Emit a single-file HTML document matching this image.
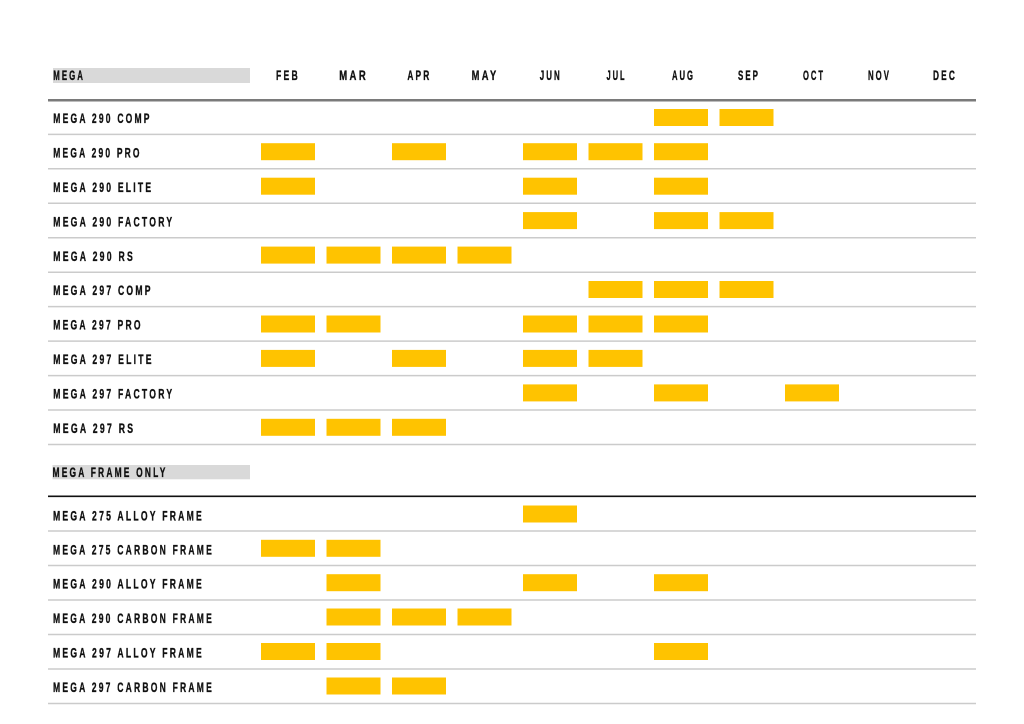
<!DOCTYPE html>
<html>
<head>
<meta charset="utf-8">
<style>
  html,body{margin:0;padding:0;background:#fff;}
  svg{display:block;}
  text{font-family:"Liberation Sans",Arial,sans-serif;font-weight:bold;font-size:13.5px;fill:#111;stroke:#111;stroke-width:0.35px;letter-spacing:3.5px;}
</style>
</head>
<body>
<svg width="1024" height="724" viewBox="0 0 1024 724" xmlns="http://www.w3.org/2000/svg">
  <rect x="0" y="0" width="1024" height="724" fill="#fff"/>

  <!-- header -->
  <rect x="53" y="68" width="197" height="15" fill="#d9d9d9"/>
  <text x="53.3" y="80" textLength="31.7" lengthAdjust="spacingAndGlyphs">MEGA</text>
  <g>
    <text x="276" y="80" textLength="24" lengthAdjust="spacingAndGlyphs">FEB</text>
    <text x="339.2" y="80" textLength="29" lengthAdjust="spacingAndGlyphs">MAR</text>
    <text x="407.4" y="80" textLength="24" lengthAdjust="spacingAndGlyphs">APR</text>
    <text x="471.6" y="80" textLength="27" lengthAdjust="spacingAndGlyphs">MAY</text>
    <text x="539.8" y="80" textLength="22" lengthAdjust="spacingAndGlyphs">JUN</text>
    <text x="606.5" y="80" textLength="20" lengthAdjust="spacingAndGlyphs">JUL</text>
    <text x="672" y="80" textLength="23" lengthAdjust="spacingAndGlyphs">AUG</text>
    <text x="738" y="80" textLength="22" lengthAdjust="spacingAndGlyphs">SEP</text>
    <text x="803" y="80" textLength="22" lengthAdjust="spacingAndGlyphs">OCT</text>
    <text x="868" y="80" textLength="23" lengthAdjust="spacingAndGlyphs">NOV</text>
    <text x="933" y="80" textLength="24" lengthAdjust="spacingAndGlyphs">DEC</text>
  </g>
  <line x1="48" y1="100.2" x2="976" y2="100.2" stroke="#7a7a7a" stroke-width="2.5"/>

  <!-- section 1 separators -->
  <g stroke="#cbcbcb" stroke-width="1.5">
    <line x1="48" y1="134.4" x2="976" y2="134.4"/>
    <line x1="48" y1="168.8" x2="976" y2="168.8"/>
    <line x1="48" y1="203.3" x2="976" y2="203.3"/>
    <line x1="48" y1="237.7" x2="976" y2="237.7"/>
    <line x1="48" y1="272.2" x2="976" y2="272.2"/>
    <line x1="48" y1="306.6" x2="976" y2="306.6"/>
    <line x1="48" y1="341.1" x2="976" y2="341.1"/>
    <line x1="48" y1="375.6" x2="976" y2="375.6"/>
    <line x1="48" y1="410" x2="976" y2="410"/>
    <line x1="48" y1="444.5" x2="976" y2="444.5"/>
  </g>

  <!-- section 1 labels -->
  <text x="53.3" y="123" textLength="98.4" lengthAdjust="spacingAndGlyphs">MEGA 290 COMP</text>
  <text x="53.3" y="157.4" textLength="88.4" lengthAdjust="spacingAndGlyphs">MEGA 290 PRO</text>
  <text x="53.3" y="191.9" textLength="100" lengthAdjust="spacingAndGlyphs">MEGA 290 ELITE</text>
  <text x="53.3" y="226.3" textLength="121" lengthAdjust="spacingAndGlyphs">MEGA 290 FACTORY</text>
  <text x="53.3" y="260.8" textLength="81.7" lengthAdjust="spacingAndGlyphs">MEGA 290 RS</text>
  <text x="53.3" y="295.2" textLength="99.4" lengthAdjust="spacingAndGlyphs">MEGA 297 COMP</text>
  <text x="53.3" y="329.7" textLength="89.4" lengthAdjust="spacingAndGlyphs">MEGA 297 PRO</text>
  <text x="53.3" y="364.1" textLength="100.5" lengthAdjust="spacingAndGlyphs">MEGA 297 ELITE</text>
  <text x="53.3" y="398.6" textLength="121" lengthAdjust="spacingAndGlyphs">MEGA 297 FACTORY</text>
  <text x="53.3" y="433" textLength="82" lengthAdjust="spacingAndGlyphs">MEGA 297 RS</text>

  <!-- section 1 bars -->
  <g fill="#ffc300">
    <rect x="654" y="109" width="54" height="17"/>
    <rect x="719.5" y="109" width="54" height="17"/>
    <rect x="261" y="143.2" width="54" height="17"/>
    <rect x="392" y="143.2" width="54" height="17"/>
    <rect x="523" y="143.2" width="54" height="17"/>
    <rect x="588.5" y="143.2" width="54" height="17"/>
    <rect x="654" y="143.2" width="54" height="17"/>
    <rect x="261" y="177.7" width="54" height="17"/>
    <rect x="523" y="177.7" width="54" height="17"/>
    <rect x="654" y="177.7" width="54" height="17"/>
    <rect x="523" y="212.1" width="54" height="17"/>
    <rect x="654" y="212.1" width="54" height="17"/>
    <rect x="719.5" y="212.1" width="54" height="17"/>
    <rect x="261" y="246.6" width="54" height="17"/>
    <rect x="326.5" y="246.6" width="54" height="17"/>
    <rect x="392" y="246.6" width="54" height="17"/>
    <rect x="457.5" y="246.6" width="54" height="17"/>
    <rect x="588.5" y="281" width="54" height="17"/>
    <rect x="654" y="281" width="54" height="17"/>
    <rect x="719.5" y="281" width="54" height="17"/>
    <rect x="261" y="315.5" width="54" height="17"/>
    <rect x="326.5" y="315.5" width="54" height="17"/>
    <rect x="523" y="315.5" width="54" height="17"/>
    <rect x="588.5" y="315.5" width="54" height="17"/>
    <rect x="654" y="315.5" width="54" height="17"/>
    <rect x="261" y="349.9" width="54" height="17"/>
    <rect x="392" y="349.9" width="54" height="17"/>
    <rect x="523" y="349.9" width="54" height="17"/>
    <rect x="588.5" y="349.9" width="54" height="17"/>
    <rect x="523" y="384.4" width="54" height="17"/>
    <rect x="654" y="384.4" width="54" height="17"/>
    <rect x="785" y="384.4" width="54" height="17"/>
    <rect x="261" y="418.8" width="54" height="17"/>
    <rect x="326.5" y="418.8" width="54" height="17"/>
    <rect x="392" y="418.8" width="54" height="17"/>
  </g>

  <!-- section 2 header -->
  <rect x="52.5" y="465" width="197.5" height="14.3" fill="#d9d9d9"/>
  <text x="52.5" y="477" textLength="115" lengthAdjust="spacingAndGlyphs">MEGA FRAME ONLY</text>
  <line x1="48" y1="496.3" x2="976" y2="496.3" stroke="#111" stroke-width="1.6"/>

  <g stroke="#cbcbcb" stroke-width="1.5">
    <line x1="48" y1="531" x2="976" y2="531"/>
    <line x1="48" y1="565.5" x2="976" y2="565.5"/>
    <line x1="48" y1="600" x2="976" y2="600"/>
    <line x1="48" y1="634.5" x2="976" y2="634.5"/>
    <line x1="48" y1="669" x2="976" y2="669"/>
    <line x1="48" y1="703.5" x2="976" y2="703.5"/>
  </g>

  <text x="53" y="520.5" textLength="151" lengthAdjust="spacingAndGlyphs">MEGA 275 ALLOY FRAME</text>
  <text x="53" y="554.5" textLength="161" lengthAdjust="spacingAndGlyphs">MEGA 275 CARBON FRAME</text>
  <text x="53" y="588.5" textLength="151" lengthAdjust="spacingAndGlyphs">MEGA 290 ALLOY FRAME</text>
  <text x="53" y="623" textLength="161" lengthAdjust="spacingAndGlyphs">MEGA 290 CARBON FRAME</text>
  <text x="53" y="657.5" textLength="151" lengthAdjust="spacingAndGlyphs">MEGA 297 ALLOY FRAME</text>
  <text x="53" y="692" textLength="161" lengthAdjust="spacingAndGlyphs">MEGA 297 CARBON FRAME</text>

  <g fill="#ffc300">
    <rect x="523" y="505.5" width="54" height="17"/>
    <rect x="261" y="539.8" width="54" height="17"/>
    <rect x="326.5" y="539.8" width="54" height="17"/>
    <rect x="326.5" y="574.2" width="54" height="17"/>
    <rect x="523" y="574.2" width="54" height="17"/>
    <rect x="654" y="574.2" width="54" height="17"/>
    <rect x="326.5" y="608.5" width="54" height="17"/>
    <rect x="392" y="608.5" width="54" height="17"/>
    <rect x="457.5" y="608.5" width="54" height="17"/>
    <rect x="261" y="643" width="54" height="17"/>
    <rect x="326.5" y="643" width="54" height="17"/>
    <rect x="654" y="643" width="54" height="17"/>
    <rect x="326.5" y="677.5" width="54" height="17"/>
    <rect x="392" y="677.5" width="54" height="17"/>
  </g>
</svg>
</body>
</html>
